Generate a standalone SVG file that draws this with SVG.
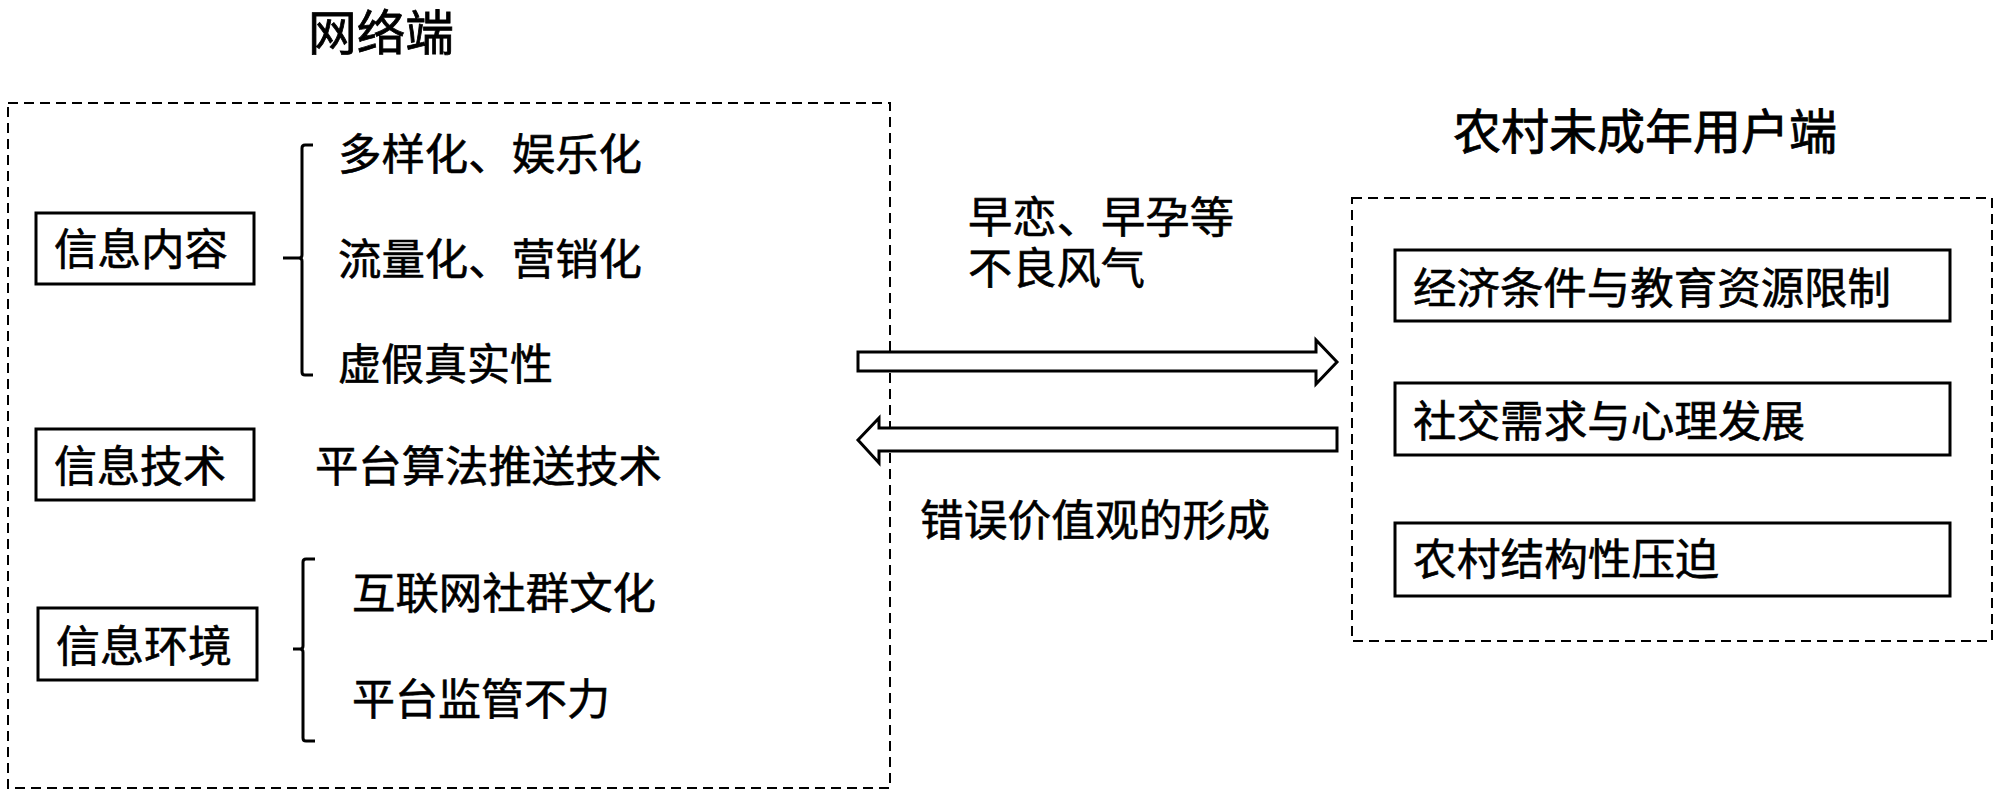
<svg xmlns="http://www.w3.org/2000/svg" width="2000" height="797" viewBox="0 0 2000 797">
<style>
text { font-family: "Noto Sans CJK SC", "Noto Sans", sans-serif; fill: #000; font-size: 43px; stroke: #000; stroke-width: 0.6; }
.title { font-size: 48px; stroke-width: 0.8; }
.box { fill: #fff; stroke: #000; stroke-width: 3; }
.dash { fill: none; stroke: #000; stroke-width: 2; stroke-dasharray: 10 6; }
.brace { fill: none; stroke: #000; stroke-width: 3; stroke-linejoin: round; }
.arrow { fill: #fff; stroke: #000; stroke-width: 3; stroke-linejoin: miter; }
</style>
<rect width="2000" height="797" fill="#fff"/>

<g id="network-side">
  <text class="title" x="308" y="50" textLength="146" lengthAdjust="spacingAndGlyphs">网络端</text>
  <rect class="dash" x="8" y="103" width="882" height="685"/>
</g>

<g id="info-content">
  <rect class="box" x="36" y="213" width="218" height="71"/>
  <text x="54" y="265" textLength="174" lengthAdjust="spacingAndGlyphs">信息内容</text>
  <path class="brace" d="M313,145 H305 Q302,145 302,148 V255 Q302,258 299,258 H283 M299,258 Q302,258 302,261 V372 Q302,375 305,375 H313"/>
  <text x="338" y="170" textLength="304" lengthAdjust="spacingAndGlyphs">多样化、娱乐化</text>
  <text x="338" y="275" textLength="304" lengthAdjust="spacingAndGlyphs">流量化、营销化</text>
  <text x="338" y="380" textLength="215" lengthAdjust="spacingAndGlyphs">虚假真实性</text>
</g>

<g id="info-tech">
  <rect class="box" x="36" y="429" width="218" height="71"/>
  <text x="54" y="482" textLength="172" lengthAdjust="spacingAndGlyphs">信息技术</text>
  <text x="315" y="482" textLength="347" lengthAdjust="spacingAndGlyphs">平台算法推送技术</text>
</g>

<g id="info-env">
  <rect class="box" x="38" y="608" width="219" height="72"/>
  <text x="56" y="662" textLength="176" lengthAdjust="spacingAndGlyphs">信息环境</text>
  <path class="brace" d="M315,559 H306 Q303,559 303,562 V646 Q303,649 300,649 H293 M300,649 Q303,649 303,652 V738 Q303,741 306,741 H315"/>
  <text x="352" y="609" textLength="304" lengthAdjust="spacingAndGlyphs">互联网社群文化</text>
  <text x="352" y="715" textLength="258" lengthAdjust="spacingAndGlyphs">平台监管不力</text>
</g>

<g id="rural-side">
  <text class="title" x="1453" y="149" textLength="384" lengthAdjust="spacingAndGlyphs">农村未成年用户端</text>
  <rect class="dash" x="1352" y="198" width="640" height="443"/>
</g>

<g id="factor-economy">
  <rect class="box" x="1395" y="250" width="555" height="71"/>
  <text x="1413" y="304" textLength="478" lengthAdjust="spacingAndGlyphs">经济条件与教育资源限制</text>
</g>

<g id="factor-social">
  <rect class="box" x="1395" y="383" width="555" height="72"/>
  <text x="1413" y="437" textLength="392" lengthAdjust="spacingAndGlyphs">社交需求与心理发展</text>
</g>

<g id="factor-structure">
  <rect class="box" x="1395" y="523" width="555" height="73"/>
  <text x="1413" y="575" textLength="306" lengthAdjust="spacingAndGlyphs">农村结构性压迫</text>
</g>

<g id="connectors">
  <polygon class="arrow" points="858,352 1316,352 1316,340 1337,362 1316,384 1316,371 858,371"/>
  <polygon class="arrow" points="1337,428 879,428 879,418 858,440 879,463 879,451 1337,451"/>
  <text x="968" y="233" textLength="266" lengthAdjust="spacingAndGlyphs">早恋、早孕等</text>
  <text x="968" y="284" textLength="177" lengthAdjust="spacingAndGlyphs">不良风气</text>
  <text x="920" y="536" textLength="350" lengthAdjust="spacingAndGlyphs">错误价值观的形成</text>
</g>
</svg>
